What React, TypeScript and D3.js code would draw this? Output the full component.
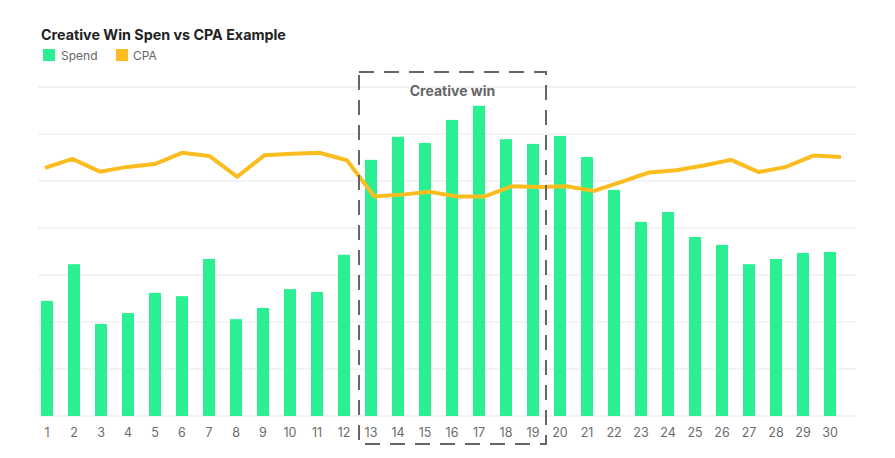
import React from "react";
import * as d3 from "d3";

const days: string[] = Array.from({ length: 30 }, (_, i) => String(i + 1));
const spend: number[] = [
  24.5, 32.3, 19.6, 21.9, 26.2, 25.5, 33.4, 20.6, 23.0, 27.0,
  26.4, 34.3, 54.5, 59.4, 58.1, 63.0, 66.0, 58.9, 57.9, 59.6,
  55.1, 48.1, 41.3, 43.4, 38.1, 36.4, 32.3, 33.4, 34.7, 34.9,
];
const cpa: number[] = [
  52.8, 54.7, 52.0, 53.0, 53.6, 56.0, 55.3, 50.9, 55.5, 55.8,
  56.0, 54.4, 46.7, 47.1, 47.7, 46.7, 46.7, 48.9, 48.7, 48.9,
  47.9, 49.8, 51.8, 52.3, 53.3, 54.5, 51.9, 53.0, 55.4, 55.1,
];
const gridValues: number[] = [0, 10, 20, 30, 40, 50, 60, 70];
const seriesNames: string[] = ["Spend", "CPA"];
const title = "Creative Win Spen vs CPA Example";
const annotation = "Creative win";
const winRange: string[] = ["13", "19"];

const GREEN = "#2bf093";
const YELLOW = "#fbbc1f";
const FONT = "Inter, 'Noto Sans', sans-serif";

export default function App() {
  const W = 895;
  const H = 458;
  const y = d3.scaleLinear().domain([0, 70]).range([416, 87]);
  const x = d3.scaleBand<string>().domain(days).range([33.5, 843.5]).paddingInner(15 / 27).paddingOuter(7.5 / 27);
  const xl = d3.scalePoint<string>().domain(days).range([45, 841]);
  const line = d3
    .line<number>()
    .x((_, i) => xl(days[i]) as number)
    .y((d) => y(d));

  const cx = (d: string) => (x(d) as number) + x.bandwidth() / 2;
  const bx0 = cx(winRange[0]) - 12;
  const bx1 = cx(winRange[1]) + 13;

  return (
    <svg width={W} height={H} style={{ position: "absolute", left: 0, top: 0 }}>
      <rect width={W} height={H} fill="#fff" />
      <text x={41} y={40} fontFamily={FONT} fontWeight={700} fontSize={14.3} fill="#222">
        {title}
      </text>
      <g fontFamily={FONT} fontSize={12} fill="#666">
        <rect x={43} y={49} width={12} height={12} fill={GREEN} />
        <text x={61} y={59.5}>{seriesNames[0]}</text>
        <rect x={116} y={49} width={12} height={12} fill={YELLOW} />
        <text x={133} y={59.5}>{seriesNames[1]}</text>
      </g>
      <g>
        {gridValues.map((v) => (
          <line key={v} x1={38} x2={856} y1={y(v)} y2={y(v)} stroke="#efefef" strokeWidth={1.5} />
        ))}
      </g>
      <g>
        {spend.map((v, i) => (
          <rect
            key={i}
            x={x(days[i]) as number}
            y={y(v)}
            width={x.bandwidth()}
            height={y(0) - y(v)}
            fill={GREEN}
          />
        ))}
      </g>
      <path d={line(cpa) || ""} fill="none" stroke={YELLOW} strokeWidth={4} strokeLinejoin="miter" />
      <g fontFamily={FONT} fontSize={12.5} fill="#6b6b6b" textAnchor="middle">
        {days.map((d) => (
          <text key={d} x={cx(d)} y={437}>
            {d}
          </text>
        ))}
      </g>
      <rect
        x={bx0}
        y={72}
        width={bx1 - bx0}
        height={444 - 72}
        fill="none"
        stroke="#666"
        strokeWidth={2}
        strokeDasharray="15,10"
      />
      <text
        x={(bx0 + bx1) / 2}
        y={96}
        textAnchor="middle"
        fontFamily={FONT}
        fontWeight={700}
        fontSize={14}
        fill="#666"
      >
        {annotation}
      </text>
    </svg>
  );
}
